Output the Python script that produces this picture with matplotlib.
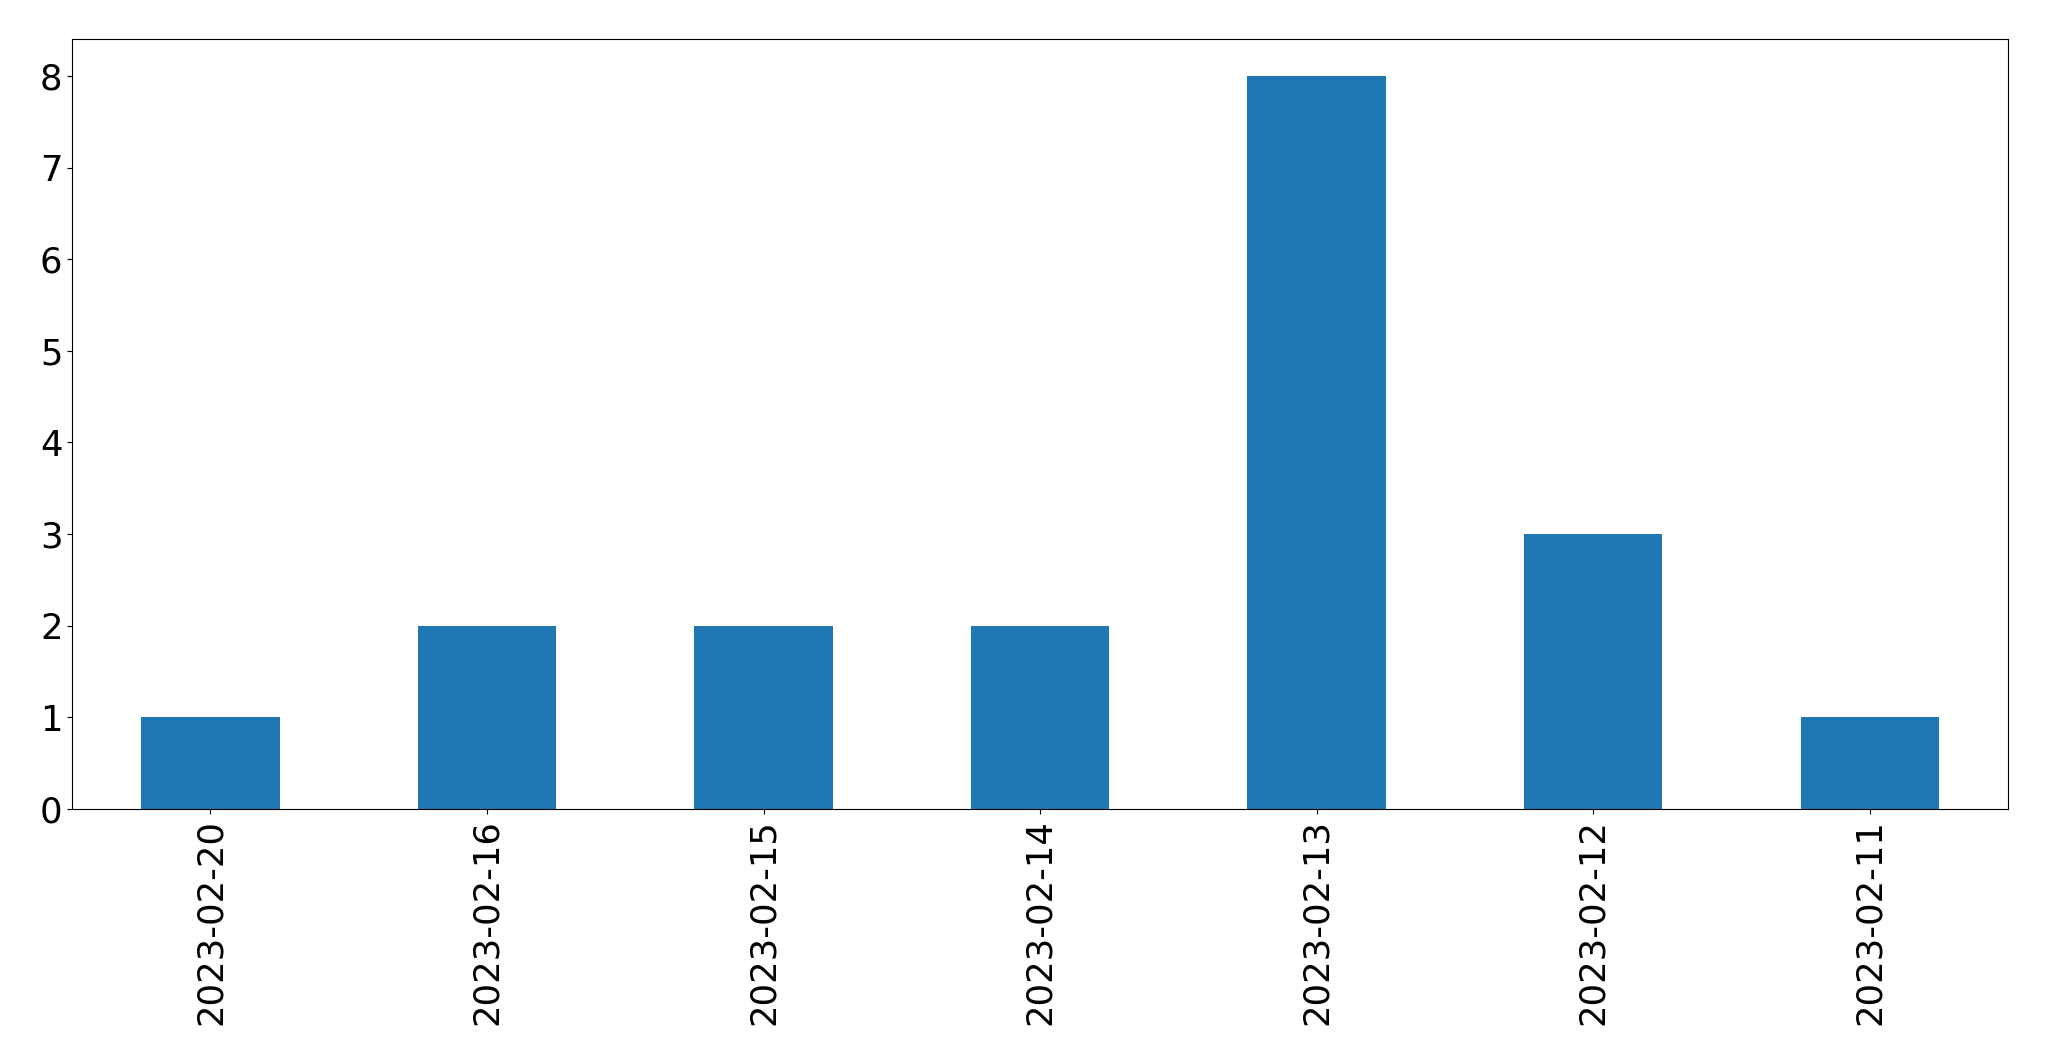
import matplotlib
matplotlib.use("Agg")
import matplotlib.pyplot as plt

# daily counts, in the order shown
dates = ['2023-02-20', '2023-02-16', '2023-02-15', '2023-02-14',
         '2023-02-13', '2023-02-12', '2023-02-11']
counts = [1, 2, 2, 2, 8, 3, 1]

fig = plt.figure(figsize=(20.49, 10.61), dpi=100)
ax = fig.add_axes([0.0352, 0.2375, 0.9448, 0.7255])

x = range(len(dates))
ax.bar(x, counts, width=0.5, color='#1f77b4')
ax.set_xlim(-0.5, len(dates) - 0.5)
ax.set_ylim(0, 8.4)
ax.set_xticks(list(x))
ax.set_xticklabels(dates, rotation=90)
ax.tick_params(labelsize=25.5)

fig.savefig('out.png', dpi=100)
